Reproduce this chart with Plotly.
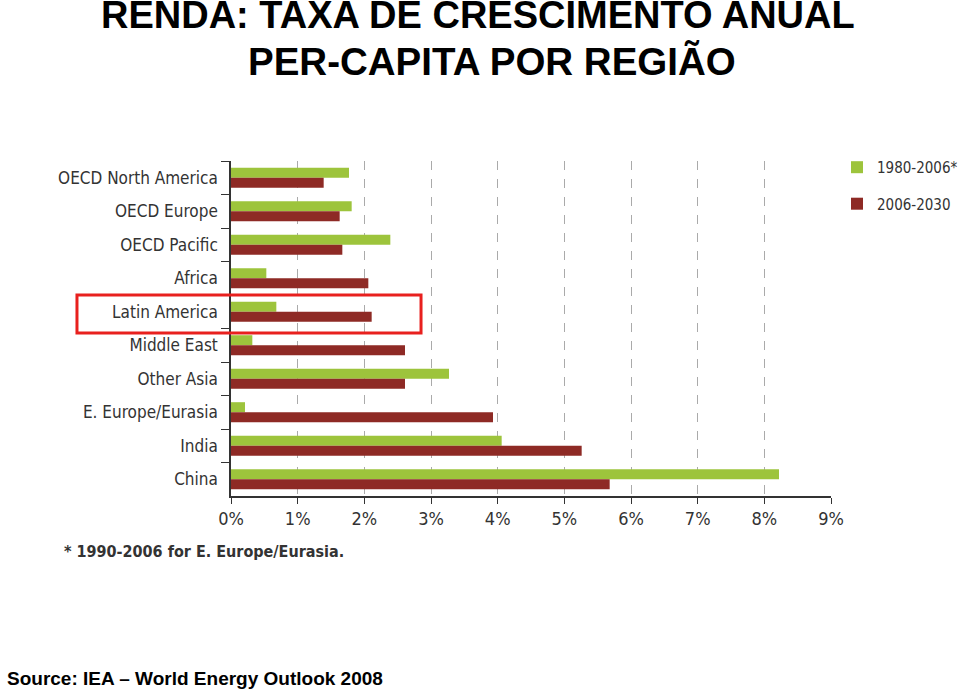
import plotly.graph_objects as go

regions = ["OECD North America", "OECD Europe", "OECD Pacific", "Africa", "Latin America",
           "Middle East", "Other Asia", "E. Europe/Eurasia", "India", "China"]
growth_1980_2006 = [1.77, 1.81, 2.39, 0.53, 0.68, 0.32, 3.27, 0.21, 4.06, 8.22]
growth_2006_2030 = [1.39, 1.63, 1.67, 2.06, 2.11, 2.61, 2.61, 3.93, 5.26, 5.68]
x_ticks = [0, 1, 2, 3, 4, 5, 6, 7, 8, 9]
x_tick_labels = [f"{v}%" for v in x_ticks]
series_names = ["1980-2006*", "2006-2030"]

NARROW = "DejaVu Sans Condensed, Liberation Sans Narrow, sans-serif"
ARIAL = "Liberation Sans, Arial, Helvetica, sans-serif"

fig = go.Figure()
fig.add_trace(go.Bar(y=regions, x=growth_1980_2006, orientation="h", name=series_names[0],
                     marker=dict(color="#9DC43C", line=dict(width=0)), legendgroup="a"))
fig.add_trace(go.Bar(y=regions, x=growth_2006_2030, orientation="h", name=series_names[1],
                     marker=dict(color="#8E2A25", line=dict(width=0)), legendgroup="b"))

fig.update_layout(
    width=960, height=696,
    margin=dict(l=231, r=129, t=161, b=200, pad=0, autoexpand=False),
    paper_bgcolor="white", plot_bgcolor="white",
    barmode="group", bargap=0.4, bargroupgap=0,
    showlegend=True,
    legend=dict(x=1.01, y=1.03, xanchor="left", yanchor="top",
                font=dict(family=NARROW, size=15, color="#333333"),
                tracegroupgap=14, bgcolor="rgba(0,0,0,0)"),
    xaxis=dict(range=[0, 9], tickvals=x_ticks, ticktext=x_tick_labels, automargin=False,
               showgrid=True, gridcolor="#AAAAAA", griddash="dash", gridwidth=1,
               zeroline=False, showline=True, linecolor="#333333", linewidth=1.5,
               ticks="outside", ticklen=6, tickcolor="#333333",
               tickfont=dict(family=NARROW, size=18, color="#333333"), fixedrange=True),
    yaxis=dict(autorange="reversed", tickson="boundaries", ticks="outside", ticklen=8,
               automargin=False, ticklabelstandoff=8,
               tickcolor="#333333", showline=True, linecolor="#333333", linewidth=1.5,
               showgrid=False, tickfont=dict(family=NARROW, size=17, color="#333333")),
)

# highlight box around Latin America
fig.add_shape(type="rect", xref="paper", yref="paper",
              x0=-0.2567, x1=0.3167, y0=0.4866, y1=0.600,
              line=dict(color="#E8201E", width=3), fillcolor="rgba(0,0,0,0)")

fig.add_annotation(text="<b>RENDA: TAXA DE CRESCIMENTO ANUAL</b>", xref="paper", yref="paper",
                   x=0.4117, y=1.436, xanchor="center", yanchor="middle", showarrow=False,
                   font=dict(family=ARIAL, size=38, color="black"))
fig.add_annotation(text="<b>PER-CAPITA POR REGIÃO</b>", xref="paper", yref="paper",
                   x=0.435, y=1.297, xanchor="center", yanchor="middle", showarrow=False,
                   font=dict(family=ARIAL, size=38.5, color="black"))
fig.add_annotation(text="<b>* 1990-2006 for E. Europe/Eurasia.</b>", xref="paper", yref="paper",
                   x=-0.2817, y=-0.167, xanchor="left", yanchor="middle", showarrow=False,
                   font=dict(family=NARROW, size=16, color="#333333"))
fig.add_annotation(text="<b>Source: IEA – World Energy Outlook 2008</b>", xref="paper", yref="paper",
                   x=-0.3767, y=-0.545, xanchor="left", yanchor="middle", showarrow=False,
                   font=dict(family=ARIAL, size=19, color="black"))

fig.write_html("out.html", config={"displayModeBar": False},
               post_script="document.body.style.margin='0';")
